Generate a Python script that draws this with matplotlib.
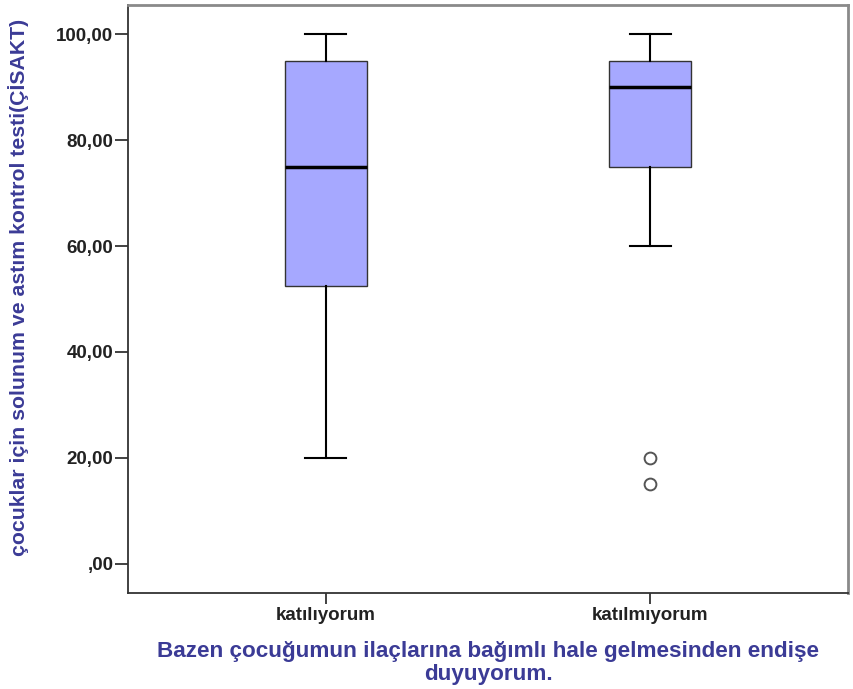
import matplotlib.pyplot as plt

# --- Datos ---
grupos = ['katılıyorum', 'katılmıyorum']
minimos = [20.0, 60.0]
q1 = [52.5, 75.0]
medianas = [75.0, 90.0]
q3 = [95.0, 95.0]
maximos = [100.0, 100.0]
atipicos = [[], [20.0, 15.0]]

y_ticks = [0, 20, 40, 60, 80, 100]
y_tick_labels = [',00', '20,00', '40,00', '60,00', '80,00', '100,00']

etiqueta_x = 'Bazen çocuğumun ilaçlarına bağımlı hale gelmesinden endişe\nduyuyorum.'
etiqueta_y = 'çocuklar için solunum ve astım kontrol testi(ÇİSAKT)'

plt.rcParams['font.family'] = ['Liberation Sans', 'DejaVu Sans']

stats = []
for i in range(len(grupos)):
    stats.append({
        'label': grupos[i], 'whislo': minimos[i], 'q1': q1[i], 'med': medianas[i],
        'q3': q3[i], 'whishi': maximos[i], 'fliers': atipicos[i],
    })

fig = plt.figure(figsize=(8.54, 6.89), dpi=100)
ax = fig.add_axes([128 / 854, 1 - 593 / 689, 720 / 854, 588 / 689])

ax.bxp(stats, positions=[1, 2], widths=0.252, patch_artist=True,
       boxprops=dict(facecolor='#a6a8ff', edgecolor='#333333', linewidth=1.0),
       medianprops=dict(color='black', linewidth=2.5),
       whiskerprops=dict(color='black', linewidth=1.5),
       capprops=dict(color='black', linewidth=1.5),
       capwidths=0.126,
       flierprops=dict(marker='o', markersize=8.5, markerfacecolor='white',
                       markeredgecolor='#555555', markeredgewidth=1.4))

ax.set_xlim(0.39, 2.61)
ax.set_ylim(-5.5, 105.5)
ax.set_yticks(y_ticks)
ax.set_yticklabels(y_tick_labels, fontsize=13.5, fontweight='bold', color='#222222')
ax.set_xticks([1, 2])
ax.set_xticklabels(grupos, fontsize=13.5, fontweight='bold', color='#222222')

ax.tick_params(axis='y', length=9.5, width=1.3, color='#333333', pad=1)
ax.tick_params(axis='x', length=8, width=1.3, color='#333333', pad=2)

for lado in ['left', 'bottom']:
    ax.spines[lado].set_color('#333333')
    ax.spines[lado].set_linewidth(1.3)
for lado in ['top', 'right']:
    ax.spines[lado].set_color('#8a8a8a')
    ax.spines[lado].set_linewidth(2.0)

ax.set_xlabel(etiqueta_x, fontsize=16.2, fontweight='bold', color='#3b3b96',
              linespacing=1.12)
ax.xaxis.set_label_coords(0.5, -0.082)
ax.set_ylabel(etiqueta_y, fontsize=15.3, fontweight='bold', color='#3b3b96')
ax.yaxis.set_label_coords(-0.137, 0.52)

plt.savefig('out.png', dpi=100)
